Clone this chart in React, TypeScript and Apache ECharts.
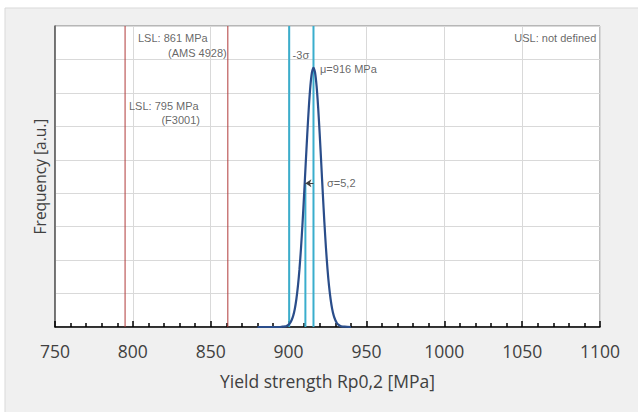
import React, { useEffect, useRef } from "react";
import * as echarts from "echarts";

const xTicks = [750, 800, 850, 900, 950, 1000, 1050, 1100];
const curveX = [880, 890, 894, 896, 898, 899, 900, 901, 902, 903, 904, 905, 906, 907, 908, 909, 910, 911, 912, 913, 914, 915, 916, 917, 918, 919, 920, 921, 922, 923, 924, 925, 926, 927, 928, 929, 930, 931, 932, 933, 934, 936, 940];
const curveY = [0, 0, 0, 0.01, 0.02, 0.04, 0.07, 0.12, 0.21, 0.34, 0.54, 0.83, 1.22, 1.73, 2.37, 3.13, 3.98, 4.88, 5.76, 6.56, 7.2, 7.61, 7.75, 7.61, 7.2, 6.56, 5.76, 4.88, 3.98, 3.13, 2.37, 1.73, 1.22, 0.83, 0.54, 0.34, 0.21, 0.12, 0.07, 0.04, 0.02, 0.01, 0];
const lslValues = [795, 861];
const mu = 916;
const sigma = 5.2;
const minus3Sigma = 900.4;
const arrowHeight = 4.3;
const yMax = 9;

type Note = { text: string; x: number; y: number; align: "left" | "right" };
const notes: Note[] = [
  { text: "LSL: 861 MPa", x: 803.3, y: 8.64, align: "left" },
  { text: "(AMS 4928)", x: 860.3, y: 8.19, align: "right" },
  { text: "LSL: 795 MPa", x: 797.5, y: 6.61, align: "left" },
  { text: "(F3001)", x: 843.1, y: 6.19, align: "right" },
  { text: "-3σ", x: 902.6, y: 8.13, align: "left" },
  { text: "μ=916 MPa", x: 920.2, y: 7.72, align: "left" },
  { text: "σ=5,2", x: 924.7, y: 4.31, align: "left" },
  { text: "USL: not defined", x: 1097.6, y: 8.64, align: "right" },
];

export default function App() {
  const ref = useRef<HTMLDivElement>(null);
  useEffect(() => {
    if (!ref.current) return;
    const chart = echarts.init(ref.current, null, { renderer: "svg" });
    const curve = curveX.map((x, i) => [x, curveY[i]]);
    const cyan = "#3aaecd";
    const red = "#b03a3a";
    chart.setOption({
      animation: false,
      backgroundColor: "#ffffff",
      graphic: [
        {
          type: "rect",
          shape: { x: 5, y: 8, width: 640, height: 410 },
          style: { fill: "#f0f0f0", stroke: "#d9d9d9", lineWidth: 1 },
          z: -10,
        },
      ],
      grid: {
        left: 55,
        top: 26,
        right: 38,
        bottom: 85,
        show: true,
        backgroundColor: "#ffffff",
        borderColor: "#7f7f7f",
        borderWidth: 1,
      },
      xAxis: {
        type: "value",
        min: xTicks[0],
        max: xTicks[xTicks.length - 1],
        interval: 50,
        name: "Yield strength Rp0,2 [MPa]",
        nameLocation: "middle",
        nameGap: 45,
        nameTextStyle: { fontFamily: "Open Sans", fontSize: 17.5, color: "#404040" },
        axisLine: { show: true, lineStyle: { color: "#000000", width: 1.5 } },
        axisTick: { show: true, inside: true, length: 6, lineStyle: { color: "#000000", width: 1.5 } },
        minorTick: { show: true, splitNumber: 5, length: 4, lineStyle: { color: "#000000", width: 1.5 } },
        axisLabel: {
          fontFamily: "Open Sans",
          fontSize: 17.5,
          color: "#404040",
          margin: 15,
          formatter: (v: number) => String(v),
        },
        splitLine: { show: true, lineStyle: { color: "#d9d9d9", width: 1 } },
      },
      yAxis: {
        type: "value",
        min: 0,
        max: yMax,
        interval: 1,
        name: "Frequency [a.u.]",
        nameLocation: "middle",
        nameGap: 7,
        nameTextStyle: { fontFamily: "Open Sans", fontSize: 15.5, color: "#404040" },
        axisLine: { show: true, lineStyle: { color: "#595959", width: 1.5 } },
        axisTick: { show: false },
        axisLabel: { show: false },
        splitLine: { show: true, lineStyle: { color: "#d9d9d9", width: 1 } },
      },
      series: [
        ...lslValues.map((v) => ({
          type: "line",
          data: [[v, 0], [v, yMax]],
          symbol: "none",
          lineStyle: { color: red, width: 1 },
          z: 3,
        })),
        {
          type: "line",
          data: [[minus3Sigma, 0], [minus3Sigma, yMax]],
          symbol: "none",
          lineStyle: { color: cyan, width: 2 },
          z: 3,
        },
        {
          type: "line",
          data: [[mu, 0], [mu, yMax]],
          symbol: "none",
          lineStyle: { color: cyan, width: 2 },
          z: 3,
        },
        {
          type: "line",
          data: [[mu - sigma, 0], [mu - sigma, arrowHeight]],
          symbol: "none",
          lineStyle: { color: cyan, width: 2 },
          z: 3,
        },
        {
          type: "line",
          data: curve,
          symbol: "none",
          smooth: 0.3,
          lineStyle: { color: "#2a4d8a", width: 2.2 },
          z: 4,
          markLine: {
            silent: true,
            symbol: ["none", "arrow"],
            symbolSize: 6,
            label: { show: false },
            lineStyle: { color: "#404040", width: 1, type: "solid" },
            data: [[{ coord: [mu, arrowHeight] }, { coord: [mu - sigma, arrowHeight] }]],
          },
        },
        {
          type: "scatter",
          symbolSize: 0,
          z: 6,
          data: notes.map((n) => ({
            value: [n.x, n.y],
            label: {
              show: true,
              position: "inside",
              formatter: n.text,
              align: n.align,
              verticalAlign: "middle",
              fontFamily: "Liberation Sans",
              fontSize: 11,
              color: "#404040",
            },
          })),
        },
      ],
    });
    return () => chart.dispose();
  }, []);
  return (
    <div
      ref={ref}
      style={{ position: "fixed", left: 0, top: 0, width: 638, height: 412 }}
    />
  );
}
